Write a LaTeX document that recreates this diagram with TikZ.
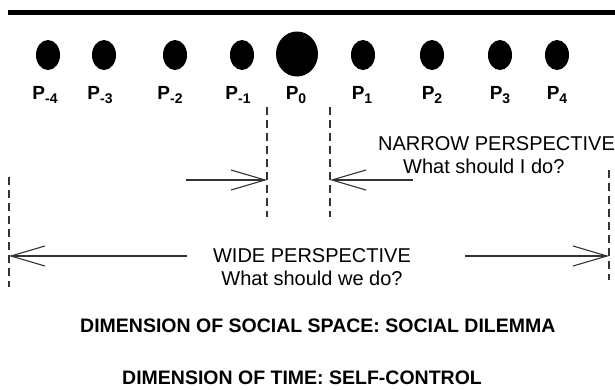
\documentclass[tikz,border=0pt]{standalone}
\usepackage{fontspec}
\setmainfont{Liberation Sans}
\usetikzlibrary{arrows.meta,shapes.geometric}
\newcommand\psub[1]{\raisebox{-4.5pt}{\fontsize{14}{14}\selectfont\bfseries #1}}
\begin{document}
\begin{tikzpicture}[x=1pt,y=-1pt,
  dotsmall/.style={fill=black, draw=none, ellipse, inner sep=0pt, minimum width=24pt, minimum height=30pt},
  dotbig/.style={fill=black, draw=none, ellipse, inner sep=0pt, minimum width=42pt, minimum height=45pt},
  lbl/.style={font=\fontsize{19}{19}\selectfont\bfseries, anchor=base, inner sep=0pt},
  guide/.style={draw=black!80, line width=1.1pt, dash pattern=on 8pt off 5pt},
  persparrow/.style={draw=black!80, line width=1.1pt, -{Straight Barb[length=34pt,width=20pt,line width=1.1pt]}},
  txt/.style={font=\fontsize{20}{20}\selectfont, inner sep=0pt},
  btxt/.style={font=\fontsize{19.5}{19.5}\selectfont\bfseries, inner sep=0pt, anchor=base west},
  topbar/.style={line width=5.5pt, draw=black}]
\useasboundingbox (0,0) rectangle (615,389);
\fill[white] (0,0) rectangle (615,389);
% top bar
\coordinate (barL) at (8,12.5);
\coordinate (barR) at (615,12.5);
\draw[topbar] (barL) -- (barR);
% persons
\node[dotsmall] (dm4) at (48,55) {};
\node[dotsmall] (dm3) at (104,55) {};
\node[dotsmall] (dm2) at (175,55) {};
\node[dotsmall] (dm1) at (242,55) {};
\node[dotbig]   (d0)  at (297,54) {};
\node[dotsmall] (d1)  at (363,55) {};
\node[dotsmall] (d2)  at (432,55) {};
\node[dotsmall] (d3)  at (500,55) {};
\node[dotsmall] (d4)  at (557,55) {};
\node[lbl] (lm4) at (45,99) {P\psub{-4}};
\node[lbl] (lm3) at (100,99) {P\psub{-3}};
\node[lbl] (lm2) at (170,99) {P\psub{-2}};
\node[lbl] (lm1) at (238,99) {P\psub{-1}};
\node[lbl] (l0)  at (296,99) {P\psub{0}};
\node[lbl] (l1)  at (362,99) {P\psub{1}};
\node[lbl] (l2)  at (432,99) {P\psub{2}};
\node[lbl] (l3)  at (500,99) {P\psub{3}};
\node[lbl] (l4)  at (557,99) {P\psub{4}};
% narrow perspective
\coordinate (nLt) at (267,107);
\coordinate (nLb) at (267,217);
\coordinate (nRt) at (330,107);
\coordinate (nRb) at (330,217);
\draw[guide] (nLt) -- (nLb);
\draw[guide] (nRt) -- (nRb);
\coordinate (naL) at (186,180);
\coordinate (naLt) at (267,180);
\coordinate (naR) at (413,180);
\coordinate (naRt) at (330,180);
\draw[persparrow] (naL) -- (naLt);
\draw[persparrow] (naR) -- (naRt);
\node[txt, anchor=base west] (narrow) at (378,150) {NARROW PERSPECTIVE};
\node[txt, anchor=base west] (narrowq) at (403,173) {What should I do?};
% wide perspective
\coordinate (wLt) at (9,177);
\coordinate (wLb) at (9,287);
\coordinate (wRt) at (609,170);
\coordinate (wRb) at (609,280);
\draw[guide] (wLt) -- (wLb);
\draw[guide] (wRt) -- (wRb);
\coordinate (waL) at (187,256);
\coordinate (waLt) at (9,256);
\coordinate (waR) at (465,256);
\coordinate (waRt) at (609,256);
\draw[persparrow] (waL) -- (waLt);
\draw[persparrow] (waR) -- (waRt);
\node[txt, anchor=base] (wide) at (312,262) {WIDE PERSPECTIVE};
\node[txt, anchor=base] (wideq) at (312,285) {What should we do?};
% dimensions
\node[btxt] (social) at (80,332) {DIMENSION OF SOCIAL SPACE: SOCIAL DILEMMA};
\node[btxt] (time) at (122,384) {DIMENSION OF TIME: SELF-CONTROL};
\end{tikzpicture}
\end{document}
